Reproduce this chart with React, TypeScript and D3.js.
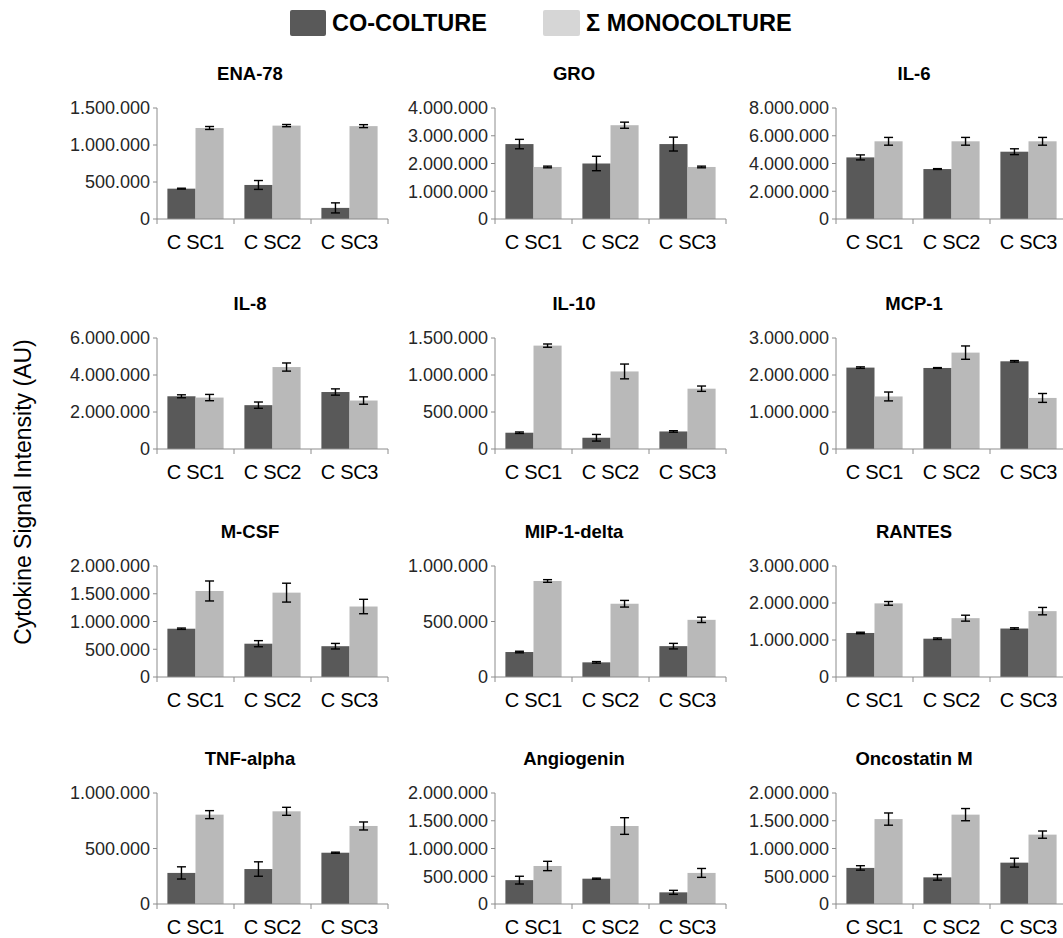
import React from "react";
import * as d3 from "d3";

// cytokine panels, left-to-right, top-to-bottom
const cytokines = [
  "ENA-78", "GRO", "IL-6",
  "IL-8", "IL-10", "MCP-1",
  "M-CSF", "MIP-1-delta", "RANTES",
  "TNF-alpha", "Angiogenin", "Oncostatin M",
];
const groups = ["C SC1", "C SC2", "C SC3"];
const seriesNames = ["CO-COLTURE", "Σ MONOCOLTURE"];

const yMax = [1500000, 4000000, 8000000, 6000000, 1500000, 3000000, 2000000, 1000000, 3000000, 1000000, 2000000, 2000000];
const yStep = [500000, 1000000, 2000000, 2000000, 500000, 1000000, 500000, 500000, 1000000, 500000, 500000, 500000];

const coValues = [
  [410000, 460000, 150000],
  [2700000, 2000000, 2700000],
  [4440000, 3600000, 4850000],
  [2850000, 2370000, 3080000],
  [220000, 152000, 237000],
  [2200000, 2190000, 2370000],
  [870000, 600000, 555000],
  [225000, 132000, 278000],
  [1190000, 1035000, 1310000],
  [280000, 315000, 462000],
  [430000, 456000, 210000],
  [650000, 480000, 745000],
];
const coErrors = [
  [6000, 60000, 68000],
  [170000, 260000, 250000],
  [180000, 30000, 210000],
  [80000, 170000, 170000],
  [10000, 45000, 10000],
  [20000, 10000, 20000],
  [12000, 55000, 50000],
  [7000, 7000, 25000],
  [20000, 20000, 20000],
  [55000, 65000, 5000],
  [70000, 10000, 36000],
  [40000, 50000, 80000],
];
const monoValues = [
  [1230000, 1262000, 1255000],
  [1875000, 3380000, 1875000],
  [5600000, 5600000, 5600000],
  [2780000, 4430000, 2620000],
  [1397000, 1048000, 815000],
  [1420000, 2605000, 1380000],
  [1550000, 1520000, 1270000],
  [865000, 660000, 515000],
  [1990000, 1590000, 1780000],
  [805000, 835000, 703000],
  [685000, 1405000, 560000],
  [1530000, 1610000, 1250000],
];
const monoErrors = [
  [20000, 15000, 20000],
  [30000, 110000, 30000],
  [280000, 280000, 280000],
  [170000, 220000, 200000],
  [22000, 100000, 36000],
  [120000, 180000, 120000],
  [180000, 170000, 130000],
  [12000, 30000, 24000],
  [50000, 80000, 100000],
  [36000, 36000, 36000],
  [84000, 150000, 80000],
  [110000, 110000, 65000],
];

const W = 1063;
const H = 938;
const colAxisX = [157, 495, 836];
const colTitleX = [250, 574, 914];
const rowBase = [219, 449, 677, 904];
const plotW = 231;
const plotH = 111;
const darkFill = "#595959";
const lightFill = "#B9B9B9";
const axisColor = "#8C8C8C";
const font = "'Liberation Sans', Arial, sans-serif";

const locale = d3.formatLocale({ decimal: ",", thousands: ".", grouping: [3], currency: ["", ""] });
const fmt = locale.format(",d");

function Panel({ i }: { i: number }) {
  const col = i % 3;
  const row = Math.floor(i / 3);
  const x0 = colAxisX[col];
  const base = rowBase[row];

  const x = d3.scaleBand().domain(groups).range([x0, x0 + plotW]).paddingInner(0).paddingOuter(0);
  const inner = d3.scaleBand().domain(["co", "mono"]).range([0, x.bandwidth()]).paddingOuter(0.37).paddingInner(0);
  const y = d3.scaleLinear().domain([0, yMax[i]]).range([base, base - plotH]);
  const ticks = d3.range(0, yMax[i] + 1, yStep[i]);

  const series = [
    { key: "co", vals: coValues[i], errs: coErrors[i], fill: darkFill },
    { key: "mono", vals: monoValues[i], errs: monoErrors[i], fill: lightFill },
  ];

  return (
    <g>
      <text x={colTitleX[col]} y={base - plotH - 28} textAnchor="middle" fontSize={18.5} fontWeight="bold" fill="#000">
        {cytokines[i]}
      </text>
      {series.map((s) =>
        groups.map((gname, gi) => {
          const bx = (x(gname) as number) + (inner(s.key) as number);
          const bw = inner.bandwidth();
          const v = s.vals[gi];
          const e = s.errs[gi];
          const cx = bx + bw / 2;
          return (
            <g key={s.key + gname}>
              <rect x={bx} y={y(v)} width={bw} height={base - y(v)} fill={s.fill} />
              <line x1={cx} x2={cx} y1={y(v + e)} y2={y(v - e)} stroke="#000" strokeWidth={1.4} />
              <line x1={cx - 4.5} x2={cx + 4.5} y1={y(v + e)} y2={y(v + e)} stroke="#000" strokeWidth={1.4} />
              <line x1={cx - 4.5} x2={cx + 4.5} y1={y(v - e)} y2={y(v - e)} stroke="#000" strokeWidth={1.4} />
            </g>
          );
        })
      )}
      {/* y axis */}
      <line x1={x0} x2={x0} y1={base - plotH} y2={base} stroke={axisColor} strokeWidth={1} />
      {ticks.map((t) => (
        <g key={t}>
          <line x1={x0 - 4} x2={x0} y1={y(t)} y2={y(t)} stroke={axisColor} strokeWidth={1} />
          <text x={x0 - 7} y={y(t)} dy="0.36em" textAnchor="end" fontSize={18} fill="#262626">
            {fmt(t)}
          </text>
        </g>
      ))}
      {/* x axis */}
      <line x1={x0} x2={x0 + plotW} y1={base} y2={base} stroke={axisColor} strokeWidth={1} />
      {[...groups.map((g) => x(g) as number), x0 + plotW].map((tx, k) => (
        <line key={k} x1={tx} x2={tx} y1={base} y2={base + 5} stroke={axisColor} strokeWidth={1} />
      ))}
      {groups.map((g) => (
        <text key={g} x={(x(g) as number) + x.bandwidth() / 2} y={base + 30} textAnchor="middle" fontSize={20} fill="#000" letterSpacing={-0.3}>
          {g}
        </text>
      ))}
    </g>
  );
}

export default function App() {
  return (
    <svg width={W} height={H} style={{ position: "absolute", left: 0, top: 0, background: "#fff" }} fontFamily={font}>
      <rect width={W} height={H} fill="#fff" />
      {/* legend */}
      <rect x={290} y={10} width={36} height={26} rx={2} fill={darkFill} />
      <text x={332} y={31} fontSize={23.5} fontWeight="bold" fill="#000">{seriesNames[0]}</text>
      <rect x={543} y={10} width={37} height={26} rx={2} fill="#D6D6D6" />
      <text x={586} y={31} fontSize={23.5} fontWeight="bold" fill="#000">{seriesNames[1]}</text>
      {/* y axis title */}
      <text transform="translate(31,492) rotate(-90)" textAnchor="middle" fontSize={23} fill="#000">
        Cytokine Signal Intensity (AU)
      </text>
      {cytokines.map((_, i) => (
        <Panel key={i} i={i} />
      ))}
    </svg>
  );
}
